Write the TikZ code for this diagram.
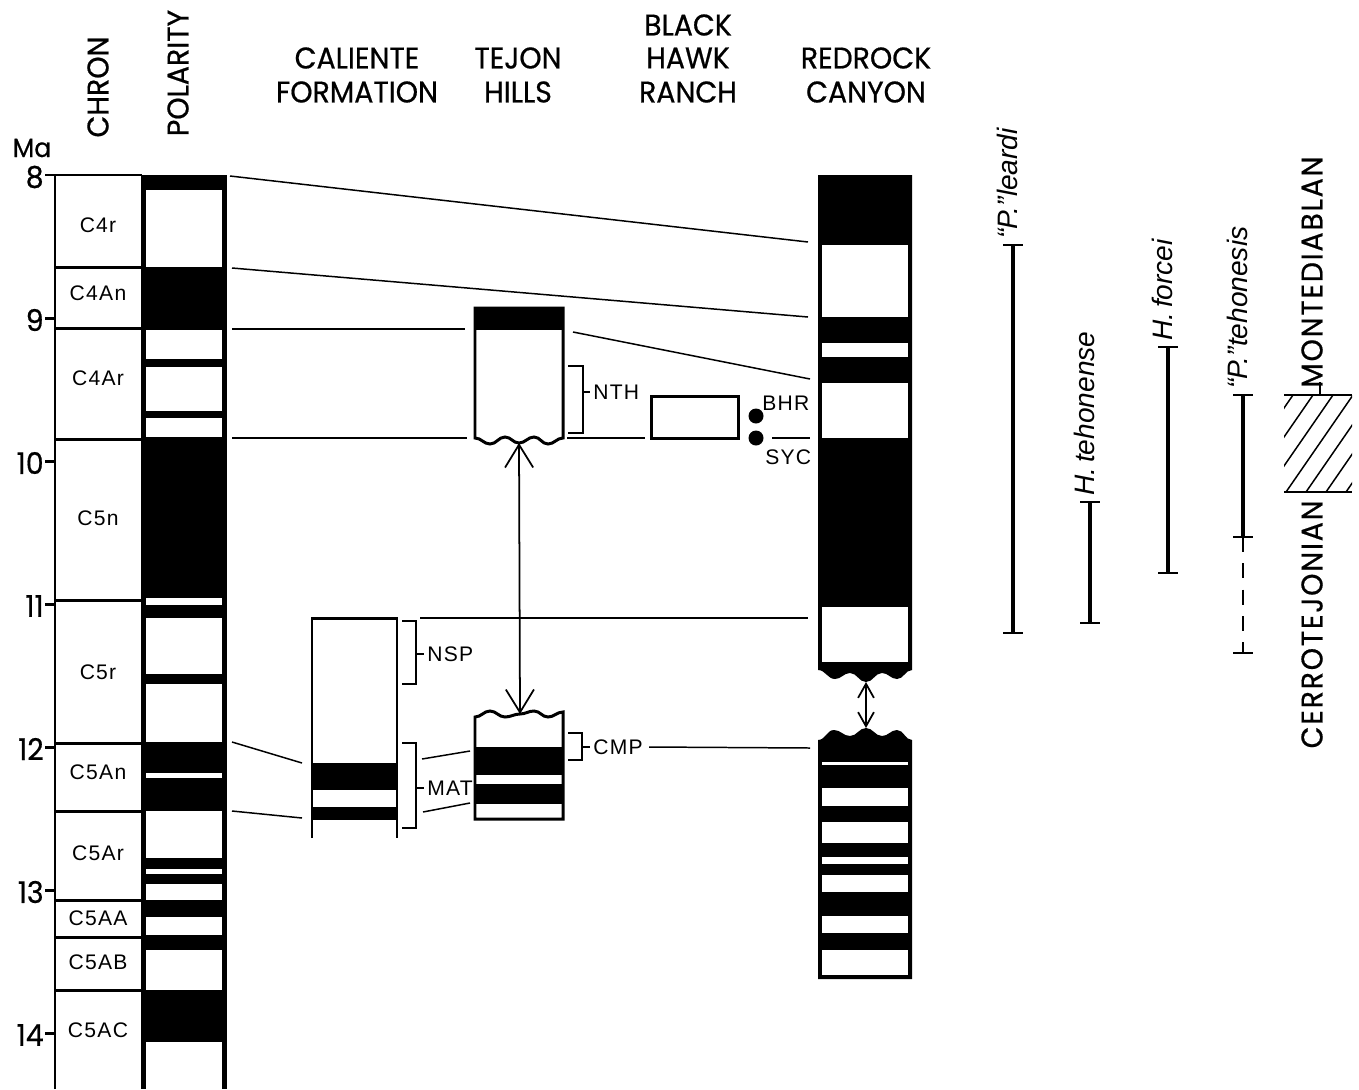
\documentclass[tikz,border=0pt]{standalone}
\usepackage{fontspec}
\setmainfont{Liberation Sans}
\newfontfamily\gothic[FakeStretch=0.95,FakeBold=0.6]{Poppins}
\newfontfamily\gothicw[FakeStretch=0.95,FakeBold=0.6,LetterSpace=6]{Poppins}
\newfontfamily\lbl[LetterSpace=6]{Liberation Sans}
\usetikzlibrary{arrows.meta,positioning,calc}

\begin{document}
\begin{tikzpicture}[x=0.02cm,y=-0.02cm,
  hdr/.style={font=\gothic\fontsize{17}{17}\selectfont,inner sep=0pt},
  vhdr/.style={hdr,rotate=90},
  stage/.style={font=\gothicw\fontsize{17}{17}\selectfont,inner sep=0pt,rotate=90},
  lab/.style={font=\lbl\fontsize{12}{12}\selectfont,inner sep=0pt},
  taxon/.style={font=\itshape\fontsize{16}{16}\selectfont,rotate=90,anchor=base west,inner sep=0pt},
  frame/.style={line width=1.7pt},
  tie/.style={line width=0.85pt},
  taxbar/.style={line width=2.8pt},
  rcap/.style={line width=1.2pt},
  barb/.style={line width=1pt,arrows={Straight Barb[length=13pt,width=16pt]-Straight Barb[length=13pt,width=16pt]}},
  sbarb/.style={line width=1pt,arrows={Straight Barb[length=8pt,width=9pt]-Straight Barb[length=8pt,width=9pt]}}
]
  \useasboundingbox (0,0) rectangle (1359,1089);

  % headers
  \node[vhdr] (chron) at (98,87) {CHRON};
  \node[vhdr] (polar) at (178,73) {POLARITY};
  \node[hdr,font=\gothic\fontsize{15}{15}\selectfont] (ma) at (32,148) {Ma};
  \node[hdr] (cal1) at (357,58) {CALIENTE};
  \node[hdr] (cal2) at (357,92) {FORMATION};
  \node[hdr] (tej1) at (518,58) {TEJON};
  \node[hdr] (tej2) at (518,92) {HILLS};
  \node[hdr] (bhr0) at (688,25) {BLACK};
  \node[hdr] (bhr1) at (688,58) {HAWK};
  \node[hdr] (bhr2) at (688,92) {RANCH};
  \node[hdr] (rr1) at (866,58) {REDROCK};
  \node[hdr] (rr2) at (866,92) {CANYON};

  % polarity column
  \fill (142,175) rectangle (226,1089);
  \foreach \a/\b in {190/267,330/359,367/411,418/437,598/605,618/674,684/742,773/778,
                     811/858,869/874,884/900,917/935,950/990,1042/1089}
    \fill[white] (146,\a) rectangle (222,\b);

  % chron column
  \draw[frame] (55,1089) -- (55,175) -- (142,175);
  \foreach \y in {267,328,439,600,743,811,900,937,990}
    \draw[frame] (55,\y) -- (142,\y);
  \draw[frame] (142,175) -- (142,1089);
  \draw[frame] (226,175) -- (226,1089);
  \foreach \v [count=\i from 0] in {8,...,14} {
    \draw[frame] (45,{175+143*\i}) -- (55,{175+143*\i});
    \node[hdr,anchor=east] (age\v) at (44,{177+143*\i}) {\v};
  }
  \foreach \y/\c in {225/C4r,293/C4An,378/C4Ar,518/C5n,672/C5r,772/C5An,
                     853/C5Ar,918/C5AA,962/C5AB,1030/C5AC}
    \node[lab] (chr-\c) at (98,\y) {\c};

  % caliente formation
  \draw[frame] (312,838) -- (312,618) -- (397,618) -- (397,838);
  \fill (312,763) rectangle (397,790);
  \fill (312,807) rectangle (397,820);
  \draw[tie] (402,621) -- (416,621) -- (416,684) -- (402,684) (416,654) -- (424,654);
  \node[lab,anchor=west] (nsp) at (427,654) {NSP};
  \draw[tie] (402,743) -- (416,743) -- (416,828) -- (402,828) (416,788) -- (424,788);
  \node[lab,anchor=west] (mat) at (427,788) {MAT};

  % tejon hills
  \filldraw[frame,fill=white] (475,308) -- (563,308) -- (563,438)
    to[out=180,in=0] (548,444) to[out=180,in=0] (534,437) to[out=180,in=0] (519,443)
    to[out=180,in=0] (505,437) to[out=180,in=0] (490,444) to[out=180,in=0] (475,438) -- cycle;
  \fill (475,308) rectangle (563,330);
  \filldraw[frame,fill=white] (475,819) -- (475,717)
    to[out=0,in=180] (490,711) to[out=0,in=180] (505,717) to[out=0,in=180] (520,714)
    to[out=0,in=180] (534,711) to[out=0,in=180] (548,717) to[out=0,in=180] (563,712) -- (563,819) -- cycle;
  \fill (475,747) rectangle (563,775);
  \fill (475,784) rectangle (563,804);
  \coordinate (tej-a) at (519,443);
  \coordinate (tej-b) at (520,714);
  \draw[barb] (tej-a) -- (tej-b);
  \draw[tie] (568,366) -- (583,366) -- (583,433) -- (568,433) (583,392) -- (590,392);
  \node[lab,anchor=west] (nth) at (593,392) {NTH};
  \draw[tie] (568,733) -- (582,733) -- (582,760) -- (568,760) (582,747) -- (590,747);
  \node[lab,anchor=west] (cmp) at (593,747) {CMP};

  % black hawk ranch
  \draw[frame] (651,396) rectangle (738,438);
  \fill (756,416) circle (7.5);
  \fill (756,438) circle (7.5);
  \node[lab,anchor=west] (bhr) at (762,403) {BHR};
  \node[lab,anchor=west] (syc) at (765,457) {SYC};

  % redrock canyon
  \fill (818,175) -- (912,175) -- (912,670)
    to[out=180,in=0] (897,679) to[out=180,in=0] (882,673) to[out=180,in=0] (866,682)
    to[out=180,in=0] (850,673) to[out=180,in=0] (835,679) to[out=180,in=0] (818,670) -- cycle;
  \foreach \a/\b in {245/317,343/357,383/438,607/662}
    \fill[white] (822,\a) rectangle (908,\b);
  \fill (818,979) -- (818,740)
    to[out=0,in=180] (834,730) to[out=0,in=180] (850,736) to[out=0,in=180] (866,728)
    to[out=0,in=180] (882,736) to[out=0,in=180] (897,730) to[out=0,in=180] (912,740) -- (912,979) -- cycle;
  \foreach \a/\b in {762/765,788/806,822/843,857/864,875/892,916/933,950/975}
    \fill[white] (822,\a) rectangle (908,\b);
  \coordinate (rr-gap-a) at (866,682);
  \coordinate (rr-gap-b) at (866,728);
  \draw[sbarb] (rr-gap-a) -- (rr-gap-b);

  % correlation lines
  \coordinate (p1) at (230,176);   \coordinate (r1) at (808,242);
  \coordinate (p2) at (232,268);   \coordinate (r2) at (808,317);
  \coordinate (p3) at (232,329);   \coordinate (t3) at (465,329);
  \coordinate (t4) at (573,332);   \coordinate (r4) at (810,379);
  \coordinate (p5) at (232,438);   \coordinate (t5) at (467,438);
  \coordinate (t5b) at (567,438);  \coordinate (b5) at (645,438);
  \coordinate (s5) at (772,438);   \coordinate (r5) at (810,438);
  \coordinate (c6) at (420,618);   \coordinate (r6) at (808,618);
  \coordinate (p7) at (232,742);   \coordinate (c7) at (302,763);
  \coordinate (p8) at (232,811);   \coordinate (c8) at (302,818);
  \coordinate (c9) at (422,759);   \coordinate (t9) at (470,751);
  \coordinate (c10) at (423,812);  \coordinate (t10) at (470,803);
  \coordinate (r11) at (810,748);
  \draw[tie] (p1) -- (r1);
  \draw[tie] (p2) -- (r2);
  \draw[tie] (p3) -- (t3);
  \draw[tie] (t4) -- (r4);
  \draw[tie] (p5) -- (t5);
  \draw[tie] (t5b) -- (b5);
  \draw[tie] (s5) -- (r5);
  \draw[tie] (c6) -- (r6);
  \draw[tie] (p7) -- (c7);
  \draw[tie] (p8) -- (c8);
  \draw[tie] (c9) -- (t9);
  \draw[tie] (c10) -- (t10);
  \draw[tie] (cmp.east) ++(6,0) -- (r11);

  % taxon ranges
  \draw[taxbar] (1013,245) -- (1013,633);
  \draw[rcap] (1003,245) -- (1023,245) (1003,633) -- (1023,633);
  \node[taxon] (leardi) at (1017,239) {“P.”leardi};
  \draw[taxbar] (1090,502) -- (1090,623);
  \draw[rcap] (1080,502) -- (1100,502) (1080,623) -- (1100,623);
  \node[taxon] (tehonense) at (1094,496) {H.\,tehonense};
  \draw[taxbar] (1168,347) -- (1168,573);
  \draw[rcap] (1158,347) -- (1178,347) (1158,573) -- (1178,573);
  \node[taxon] (forcei) at (1172,341) {H.\,forcei};
  \draw[taxbar] (1243,395) -- (1243,537);
  \draw[line width=1.2pt,dash pattern=on 8.5pt off 6.5pt] (1243,537) -- (1243,653);
  \draw[rcap] (1233,395) -- (1253,395) (1233,537) -- (1253,537) (1233,653) -- (1253,653);
  \node[taxon] (tehonesis) at (1247,389) {“P.”tehonesis};

  % stages
  \begin{scope}
    \clip (1284,395) rectangle (1352,492);
    \foreach \s in {0,...,7}
      \draw[tie] ({1206+20*\s},492) -- ++(67,-97);
  \end{scope}
  \draw[rcap] (1284,395) -- (1352,395) (1284,492) -- (1352,492) (1320,382) -- (1320,395);
  \node[stage,anchor=west] (montd) at (1312,388) {MONTEDIABLAN};
  \node[stage,anchor=east] (cerrot) at (1312,500) {CERROTEJONIAN};
\end{tikzpicture}
\end{document}
